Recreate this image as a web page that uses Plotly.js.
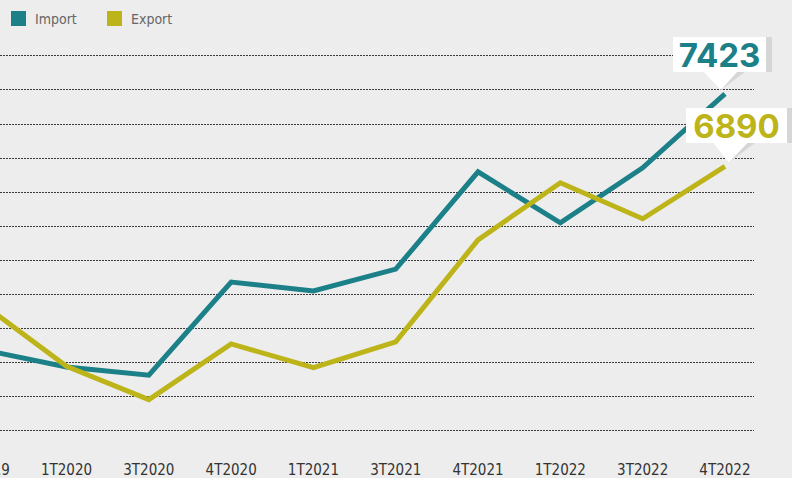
<!DOCTYPE html>
<html>
<head>
<meta charset="utf-8">
<script src="https://cdn.plot.ly/plotly-3.0.1.min.js"></script>
<style>
  html, body { margin: 0; padding: 0; background: #ededed; overflow: hidden; width: 792px; height: 478px; }
  #chart { position: absolute; left: -24px; top: 0; width: 816px; height: 478px; }
</style>
</head>
<body>
<div id="chart"></div>
<script>
const categories = ['4T2019', '1T2020', '3T2020', '4T2020', '1T2021', '3T2021', '4T2021', '1T2022', '3T2022', '4T2022'];
const importValues = [5540, 5415, 5355, 6040, 5975, 6135, 6850, 6475, 6880, 7423];
const exportValues = [5870, 5420, 5175, 5585, 5410, 5600, 6350, 6770, 6505, 6890];
const seriesNames = ['Import', 'Export'];

const TEAL = '#1c8088';
const OLIVE = '#bdb41a';
const SHADOW = '#d6d6d6';
const NARROW = '"DejaVu Sans Condensed", "Liberation Sans Narrow", sans-serif';
const BOLD = 'Inter, "Open Sans", "DejaVu Sans", sans-serif';

const lastCat = categories[categories.length - 1];
const lastImport = importValues[importValues.length - 1];
const lastExport = exportValues[exportValues.length - 1];

const traces = [
  { x: categories, y: importValues, name: seriesNames[0], type: 'scatter', mode: 'lines',
    line: { color: TEAL, width: 5 }, showlegend: false, hoverinfo: 'skip' },
  { x: categories, y: exportValues, name: seriesNames[1], type: 'scatter', mode: 'lines',
    line: { color: OLIVE, width: 5 }, showlegend: false, hoverinfo: 'skip' }
];

function pointer(anchorY, pts, color) {
  const d = 'M' + pts.map(p => p[0] + ',' + p[1]).join(' L') + ' Z';
  return { type: 'path', xref: 'x', yref: 'y', xsizemode: 'pixel', ysizemode: 'pixel',
    xanchor: lastCat, yanchor: anchorY, path: d, fillcolor: color, line: { width: 0 }, layer: 'above' };
}

const shapes = [
  // legend squares
  { type: 'rect', xref: 'paper', yref: 'paper', xsizemode: 'pixel', ysizemode: 'pixel', xanchor: 0, yanchor: 1,
    x0: 35, x1: 50, y0: 14, y1: 29, fillcolor: TEAL, line: { width: 0 } },
  { type: 'rect', xref: 'paper', yref: 'paper', xsizemode: 'pixel', ysizemode: 'pixel', xanchor: 0, yanchor: 1,
    x0: 131, x1: 146, y0: 14, y1: 29, fillcolor: OLIVE, line: { width: 0 } },
  // callout pointers
  pointer(lastImport, [[9, 23], [21, 23], [-4, 4]], SHADOW),
  pointer(lastImport, [[-22, 23], [13, 23], [-4, 4]], '#ffffff'),
  pointer(lastExport, [[21, 24], [31, 24], [4, 4]], SHADOW),
  pointer(lastExport, [[-12, 24], [23, 24], [4, 4]], '#ffffff')
];

const annotations = [
  { xref: 'paper', yref: 'paper', x: 0, y: 1, xshift: 57, yshift: 21, xanchor: 'left', yanchor: 'middle',
    text: seriesNames[0], showarrow: false, font: { family: NARROW, size: 14, color: '#666666' } },
  { xref: 'paper', yref: 'paper', x: 0, y: 1, xshift: 153, yshift: 21, xanchor: 'left', yanchor: 'middle',
    text: seriesNames[1], showarrow: false, font: { family: NARROW, size: 14, color: '#666666' } },
  // box shadows
  { x: lastCat, y: lastImport, xref: 'x', yref: 'y', xanchor: 'center', yanchor: 'bottom', xshift: 0.5, yshift: 22,
    width: 93, height: 35, borderpad: 0, borderwidth: 0, bgcolor: SHADOW, showarrow: false,
    text: ' ', font: { family: BOLD, size: 10, color: SHADOW } },
  { x: lastCat, y: lastExport, xref: 'x', yref: 'y', xanchor: 'center', yanchor: 'bottom', xshift: 17.5, yshift: 23,
    width: 101, height: 35, borderpad: 0, borderwidth: 0, bgcolor: SHADOW, showarrow: false,
    text: ' ', font: { family: BOLD, size: 10, color: SHADOW } },
  // value boxes
  { x: lastCat, y: lastImport, xref: 'x', yref: 'y', xanchor: 'center', yanchor: 'bottom', xshift: -5.5, yshift: 22,
    width: 93, height: 35, borderpad: 0, borderwidth: 0, bgcolor: '#ffffff', showarrow: false,
    text: String(lastImport), font: { family: BOLD, size: 33, color: TEAL, weight: 700 } },
  { x: lastCat, y: lastExport, xref: 'x', yref: 'y', xanchor: 'center', yanchor: 'bottom', xshift: 11.5, yshift: 23,
    width: 101, height: 35, borderpad: 0, borderwidth: 0, bgcolor: '#ffffff', showarrow: false,
    text: String(lastExport), font: { family: BOLD, size: 33, color: OLIVE, weight: 700 } }
];

const layout = {
  width: 816, height: 478,
  margin: { l: 0, r: 38, t: 40, b: 38, pad: 0 },
  paper_bgcolor: '#ededed', plot_bgcolor: '#ededed',
  showlegend: false,
  xaxis: {
    type: 'category', range: [-0.1, 9.353], showgrid: false, zeroline: false, showline: false,
    ticks: '', ticklabelstandoff: 19,
    tickfont: { family: NARROW, size: 15, color: '#333333' }, fixedrange: true
  },
  yaxis: {
    range: [4878.5, 7819.6], showticklabels: false, ticks: '', zeroline: false, showline: false,
    showgrid: true, gridcolor: '#3a3a3a', gridwidth: 1, griddash: '2px,1px',
    tick0: 4952, dtick: 250, fixedrange: true
  },
  shapes: shapes,
  annotations: annotations
};

Plotly.newPlot('chart', traces, layout, { staticPlot: true, displayModeBar: false });
</script>
</body>
</html>
